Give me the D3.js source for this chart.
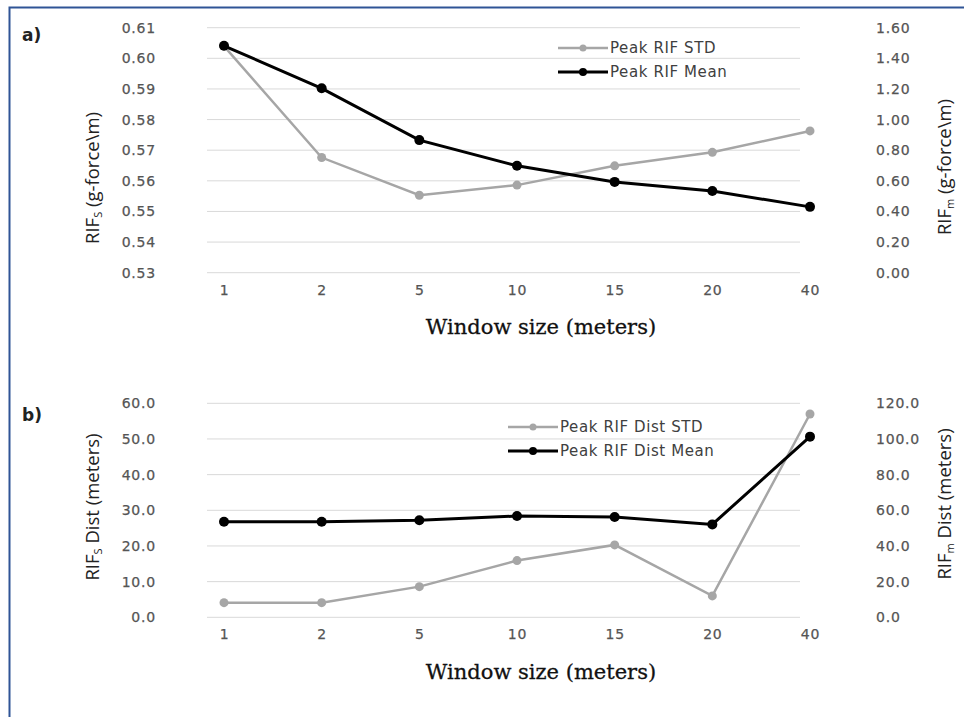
<!DOCTYPE html>
<html><head><meta charset="utf-8">
<script src="https://cdn.jsdelivr.net/npm/d3@7"></script>
<style>body{margin:0;background:#fff}svg{display:block}</style>
</head><body>
<svg id="c" width="964" height="717"></svg>
<script>
const categories = ["1","2","5","10","15","20","40"];
// Panel a
const aStd  = [0.604, 0.5676, 0.5553, 0.5586, 0.5649, 0.5693, 0.5763];
const aMean = [1.482, 1.204, 0.866, 0.698, 0.593, 0.533, 0.430];
const aLeftTicks  = [0.53,0.54,0.55,0.56,0.57,0.58,0.59,0.60,0.61];
const aRightTicks = [0,0.2,0.4,0.6,0.8,1.0,1.2,1.4,1.6];
// Panel b
const bStd  = [4.1, 4.1, 8.6, 15.9, 20.3, 6.0, 57.0];
const bMean = [53.6, 53.6, 54.4, 56.8, 56.2, 52.1, 101.3];
const bLeftTicks  = [0,10,20,30,40,50,60];
const bRightTicks = [0,20,40,60,80,100,120];

const svg = d3.select("#c");
const GREY = "#a6a6a6", BLACK = "#000";
const TICKCOL = "#555";
const TICKFONT = "14px 'DejaVu Sans'";

// frame
svg.append("path").attr("d","M9.5,717 L9.5,7.5 L964,7.5").attr("fill","none")
  .attr("stroke","#2f5496").attr("stroke-width",2);

const x = d3.scalePoint().domain(categories).range([224, 810]);

function styleTicks(sel){
  sel.selectAll("text").attr("fill",TICKCOL).style("font",TICKFONT)
    .style("letter-spacing","0.8px").attr("stroke",TICKCOL).attr("stroke-width",0.25);
}

function panel(o){
  const g = svg.append("g");
  const yL = d3.scaleLinear().domain(o.lDom).range([o.bottom, o.top]);
  const yR = d3.scaleLinear().domain(o.rDom).range([o.bottom, o.top]);
  // gridlines
  g.selectAll("line.grid").data(o.lTicks).join("line")
    .attr("x1",207).attr("x2",800)
    .attr("y1",d=>yL(d)).attr("y2",d=>yL(d))
    .attr("stroke","#d9d9d9").attr("stroke-width",1);
  // left ticks
  const la = d3.axisLeft(yL).tickValues(o.lTicks).tickFormat(o.lFmt).tickSize(0).tickPadding(0);
  const gl = g.append("g").attr("transform","translate(156,0)").call(la);
  gl.select(".domain").remove();
  styleTicks(gl);
  const ra = d3.axisRight(yR).tickValues(o.rTicks).tickFormat(o.rFmt).tickSize(0).tickPadding(0);
  const gr = g.append("g").attr("transform","translate(876,0)").call(ra);
  gr.select(".domain").remove();
  styleTicks(gr);
  // x axis labels
  const xa = d3.axisBottom(x).tickSize(0).tickPadding(0);
  const gx = g.append("g").attr("transform",`translate(0,${o.xLab})`).call(xa);
  gx.select(".domain").remove();
  styleTicks(gx);
  gx.selectAll("text").attr("dy","0").attr("dominant-baseline","middle");
  // x title
  g.append("text").attr("x",541).attr("y",o.xTitle).attr("text-anchor","middle")
    .style("font","21px 'DejaVu Serif'").attr("fill","#111").attr("stroke","#111").attr("stroke-width",0.3)
    .text("Window size (meters)");
  // y titles
  function ytitle(xp, yp, sub, rest){
    const t = g.append("text").attr("transform",`translate(${xp},${yp}) rotate(-90)`)
      .attr("text-anchor","middle").style("font","18.5px 'Open Sans'").attr("fill","#222");
    t.append("tspan").text("RIF");
    t.append("tspan").attr("font-size","11px").attr("dy",3).text(sub);
    t.append("tspan").attr("dy",-3).text(rest);
  }
  ytitle(99, o.lTitleY, "S", o.titleRest);
  ytitle(951, o.rTitleY, "m", o.titleRest);
  // series
  const lineL = d3.line().x((d,i)=>x(categories[i])).y(d=>yL(d));
  const lineR = d3.line().x((d,i)=>x(categories[i])).y(d=>yR(d));
  g.append("path").attr("d",lineL(o.std)).attr("fill","none").attr("stroke",GREY).attr("stroke-width",2.5);
  g.selectAll("circle.s").data(o.std).join("circle")
    .attr("cx",(d,i)=>x(categories[i])).attr("cy",d=>yL(d)).attr("r",4.5).attr("fill",GREY);
  g.append("path").attr("d",lineR(o.mean)).attr("fill","none").attr("stroke",BLACK).attr("stroke-width",3);
  g.selectAll("circle.m").data(o.mean).join("circle")
    .attr("cx",(d,i)=>x(categories[i])).attr("cy",d=>yR(d)).attr("r",5).attr("fill",BLACK);
  // legend
  const leg = [{n:o.legStd,c:GREY,w:2.5,r:3.5},{n:o.legMean,c:BLACK,w:3,r:4}];
  leg.forEach((d,i)=>{
    const yy = o.legY + i*24;
    g.append("line").attr("x1",o.legX).attr("x2",o.legX+50).attr("y1",yy).attr("y2",yy)
      .attr("stroke",d.c).attr("stroke-width",d.w);
    g.append("circle").attr("cx",o.legX+25).attr("cy",yy).attr("r",d.r).attr("fill",d.c);
    g.append("text").attr("x",o.legX+52).attr("y",yy).attr("dominant-baseline","middle")
      .style("font","15px 'DejaVu Sans'").style("letter-spacing","0.6px")
      .attr("fill","#404040").text(d.n);
  });
  // panel label
  g.append("text").attr("x",22).attr("y",o.labY).style("font","bold 17px 'DejaVu Sans'")
    .attr("fill","#222").text(o.lab);
}

panel({top:27.7,bottom:272.7,lDom:[0.53,0.61],rDom:[0,1.6],lTicks:aLeftTicks,rTicks:aRightTicks,
  lFmt:d3.format(".2f"),rFmt:d3.format(".2f"),xLab:291,xTitle:334,
  lTitleY:178,rTitleY:167,titleRest:" (g-force\\m)",std:aStd,mean:aMean,
  legStd:"Peak RIF STD",legMean:"Peak RIF Mean",legX:558,legY:48,lab:"a)",labY:41});
panel({top:403.3,bottom:617.3,lDom:[0,60],rDom:[0,120],lTicks:bLeftTicks,rTicks:bRightTicks,
  lFmt:d3.format(".1f"),rFmt:d3.format(".1f"),xLab:635,xTitle:679,
  lTitleY:507,rTitleY:504,titleRest:" Dist (meters)",std:bStd,mean:bMean,
  legStd:"Peak RIF Dist STD",legMean:"Peak RIF Dist Mean",legX:508,legY:427,lab:"b)",labY:421});
</script>
</body></html>
